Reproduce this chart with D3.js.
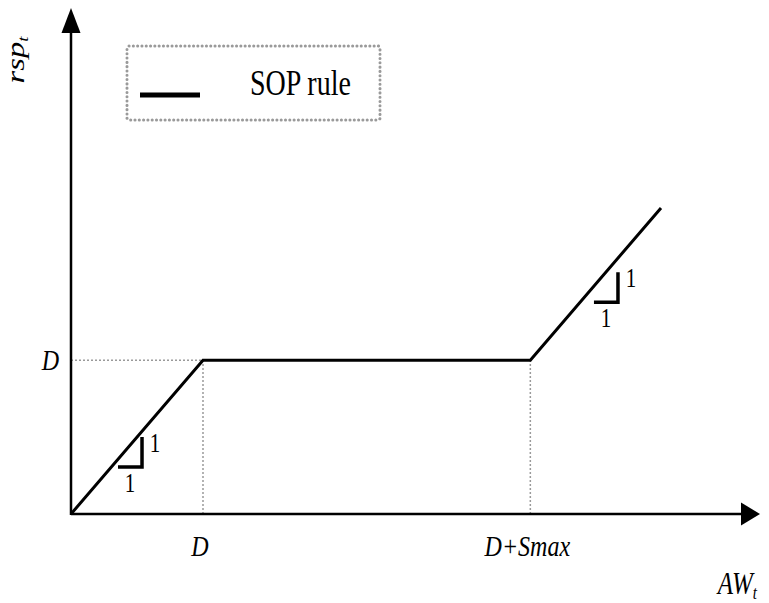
<!DOCTYPE html>
<html><head><meta charset="utf-8">
<script src="https://cdn.jsdelivr.net/npm/d3@7"></script>
<style>html,body{margin:0;padding:0;background:#fff;}svg{display:block;}</style>
</head><body>
<svg id="chart" width="769" height="603"></svg>
<script>
// ---- data ----
const D = 100;
const Smax = 248;
const seriesName = "SOP rule";
const lineX = [0, D, D + Smax, 447];
const lineY = [0, D, D, 199];
const xTickValues = [D, D + Smax];
const xTickLabels = ["D", "D+Smax"];
const yTickValues = [D];
const yTickLabels = ["D"];
const guideX = [D, D + Smax];          // vertical dotted guides
const slopeCorners = [[53.8, 30.5], [414.4, 137.7]];  // slope-triangle corners (data units)
const slopeLeg = [18.2, 19.5];          // leg lengths (x units, y units)
const slopeLabels = ["1", "1"];

// ---- scales ----
const xMax = 522, yMax = 329;
const x = d3.scaleLinear().domain([0, xMax]).range([71, 760]);
const y = d3.scaleLinear().domain([0, yMax]).range([514, 8]);

const svg = d3.select("#chart");
const serif = "'Liberation Serif', 'DejaVu Serif', serif";
const SY = 1.25;

function stretchedText(g, px, py, txt, opts = {}) {
  const t = g.append("text")
    .attr("transform", `translate(${px},${py}) scale(1,${SY})` + (opts.rotate ? ` rotate(${opts.rotate})` : ""))
    .attr("font-family", serif)
    .attr("font-size", opts.size || 25)
    .attr("font-style", opts.italic ? "italic" : "normal")
    .attr("text-anchor", opts.anchor || "start")
    .attr("fill", "#000");
  return t.text(txt);
}

// dotted guides
const guides = svg.append("g").attr("stroke", "#9a9a9a").attr("stroke-width", 1.5).attr("stroke-dasharray", "2,2");
guides.selectAll("line.v").data(guideX).enter().append("line")
  .attr("x1", d => x(d)).attr("x2", d => x(d)).attr("y1", y(0)).attr("y2", y(D));
guides.append("line").attr("x1", x(0)).attr("x2", x(D)).attr("y1", y(D)).attr("y2", y(D));

// axes
const axisG = svg.append("g");
axisG.append("line").attr("x1", x(0)).attr("x2", x(xMax) - 19).attr("y1", y(0)).attr("y2", y(0))
  .attr("stroke", "#000").attr("stroke-width", 2.5);
axisG.append("line").attr("x1", x(0)).attr("x2", x(0)).attr("y1", y(0) + 1).attr("y2", y(yMax) + 24)
  .attr("stroke", "#000").attr("stroke-width", 2.5);
// arrowheads
axisG.append("path")
  .attr("d", `M${x(xMax)},${y(0)} L${x(xMax) - 19},${y(0) - 11.5} L${x(xMax) - 19},${y(0) + 11.5} Z`)
  .attr("fill", "#000");
axisG.append("path")
  .attr("d", `M${x(0)},${y(yMax)} L${x(0) - 9.5},${y(yMax) + 25} L${x(0) + 9.5},${y(yMax) + 25} Z`)
  .attr("fill", "#000");

// main line
const pts = lineX.map((v, i) => [v, lineY[i]]);
svg.append("path").datum(pts)
  .attr("d", d3.line().x(d => x(d[0])).y(d => y(d[1])))
  .attr("fill", "none").attr("stroke", "#000").attr("stroke-width", 3)
  .attr("stroke-linejoin", "miter");

// slope triangles
const tri = svg.append("g");
slopeCorners.forEach((c, i) => {
  const cx = x(c[0]), cy = y(c[1]);
  tri.append("path")
    .attr("d", `M${x(c[0] - slopeLeg[0])},${cy} L${cx},${cy} L${cx},${y(c[1] + slopeLeg[1])}`)
    .attr("fill", "none").attr("stroke", "#000").attr("stroke-width", 3.5);
  stretchedText(tri, cx + 13, cy - 15, slopeLabels[i], { size: 21, anchor: "middle" });
  stretchedText(tri, x(c[0] - slopeLeg[0] / 2), cy + 25, slopeLabels[i], { size: 21, anchor: "middle" });
});

// tick labels
const tl = svg.append("g");
xTickValues.forEach((v, i) => {
  stretchedText(tl, x(v) - 3, y(0) + 42, xTickLabels[i], { italic: true, size: 24, anchor: "middle" });
});
yTickValues.forEach((v, i) => {
  stretchedText(tl, x(0) - 12, y(v) + 10, yTickLabels[i], { italic: true, size: 24, anchor: "end" });
});

// axis titles
const xt = stretchedText(svg, 757, 594, "", { italic: true, size: 25, anchor: "end" });
xt.append("tspan").text("AW");
xt.append("tspan").attr("font-size", 15).attr("dy", 4).text("t");
const yt = stretchedText(svg, 24, 60, "", { italic: true, size: 26, anchor: "middle", rotate: -90 });
yt.append("tspan").text("rsp");
yt.append("tspan").attr("font-size", 15).attr("dy", 4).text("t");

// legend
const lg = svg.append("g");
lg.append("rect").attr("x", 127).attr("y", 46).attr("width", 253).attr("height", 74).attr("rx", 2)
  .attr("fill", "none").attr("stroke", "#9a9a9a").attr("stroke-width", 3)
  .attr("stroke-dasharray", "0.1,4.2").attr("stroke-linecap", "round");
lg.append("line").attr("x1", 140).attr("x2", 200).attr("y1", 95).attr("y2", 95)
  .attr("stroke", "#000").attr("stroke-width", 5);
stretchedText(lg, 250, 94.5, seriesName, { size: 28 });
</script>
</body></html>
